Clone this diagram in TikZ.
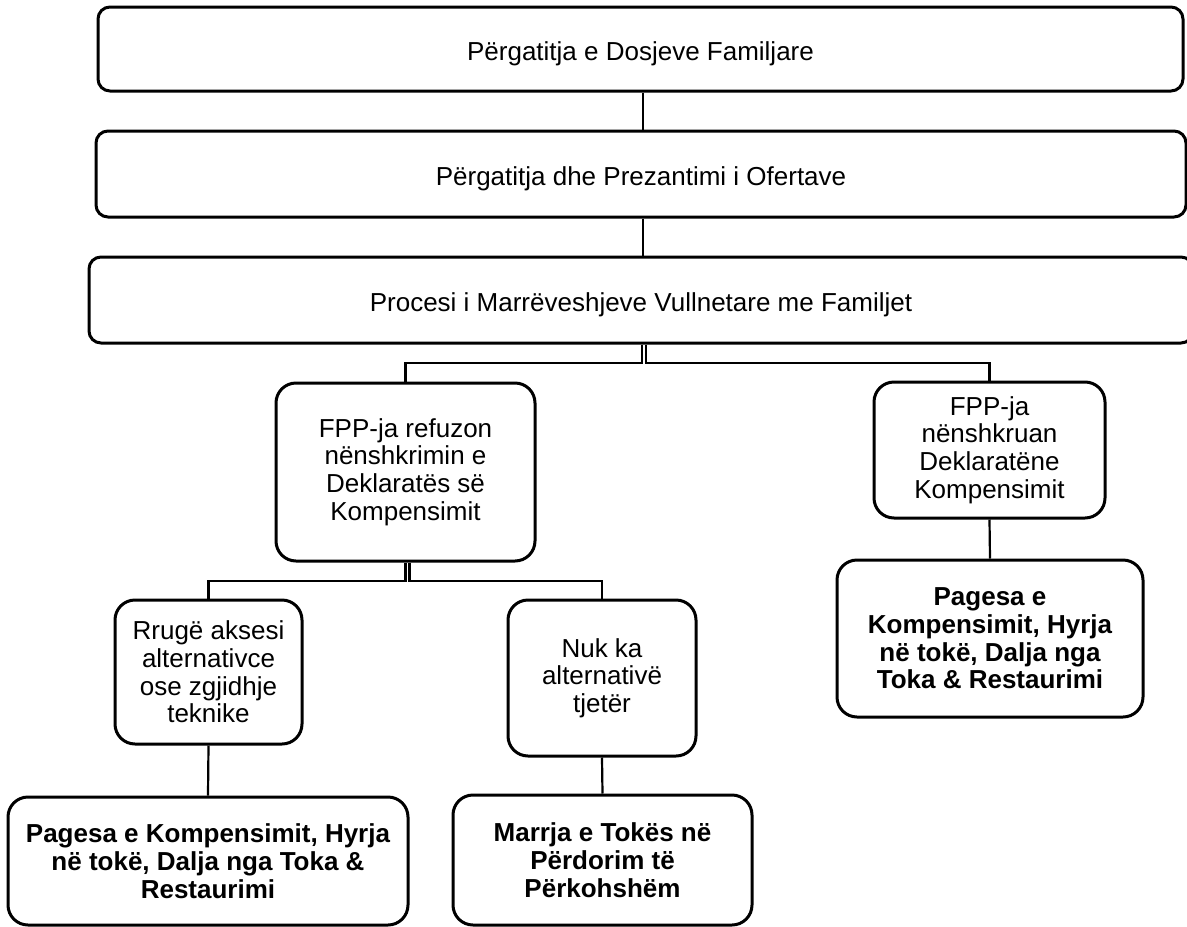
\documentclass[tikz,border=0pt]{standalone}
\usepackage{fontspec}
\setmainfont{Liberation Sans}
\begin{document}
\begin{tikzpicture}[x=1pt,y=-1pt,
  box/.style={draw=black,line width=3pt,fill=white,align=center,inner sep=0pt,
    font=\fontsize{26}{27.7}\selectfont},
  widebox/.style={box,rounded corners=12pt,text height=23pt,text depth=0pt},
  smallbox/.style={box,rounded corners=20pt},
  result/.style={box,rounded corners=20pt,font=\fontsize{26}{27.7}\selectfont\bfseries},
  link/.style={draw=black,line width=2.2pt}]
\useasboundingbox (0,0) rectangle (1187,927);

% top level process boxes
\node[widebox,minimum width=1085pt,minimum height=84pt] (b1) at (640.5,49)
  {Përgatitja e Dosjeve Familjare};
\node[widebox,minimum width=1090pt,minimum height=86pt] (b2) at (641,174)
  {Përgatitja dhe Prezantimi i Ofertave};
\node[widebox,minimum width=1104pt,minimum height=86pt] (b3) at (641,300)
  {Procesi i Marrëveshjeve Vullnetare me Familjet};

% second level
\node[smallbox,minimum width=259pt,minimum height=178pt] (b4) at (405.5,472)
  {FPP-ja refuzon\\nënshkrimin e\\Deklaratës së\\Kompensimit};
\node[smallbox,minimum width=231pt,minimum height=136pt] (b9) at (989.5,450)
  {FPP-ja\\nënshkruan\\Deklaratëne\\Kompensimit};

% third level
\node[smallbox,minimum width=187pt,minimum height=144pt] (b5) at (208.5,672)
  {Rrugë aksesi\\alternativce\\ose zgjidhje\\teknike};
\node[smallbox,minimum width=188pt,minimum height=156pt] (b6) at (602,678)
  {Nuk ka\\alternativë\\tjetër};
\node[result,minimum width=306pt,minimum height=157pt] (b10) at (990,638.5)
  {Pagesa e\\Kompensimit, Hyrja\\në tokë, Dalja nga\\Toka \& Restaurimi};

% outcome boxes
\node[result,minimum width=400pt,minimum height=128pt,text depth=0pt] (b7) at (208,861)
  {Pagesa e Kompensimit, Hyrja\\në tokë, Dalja nga Toka \&\\Restaurimi};
\node[result,minimum width=299pt,minimum height=130pt] (b8) at (602.5,860)
  {Marrja e Tokës në\\Përdorim të\\Përkohshëm};

% helper coordinates for the connector lines
\coordinate (spine) at (643,0);
\coordinate (sA) at (642,0);
\coordinate (sB) at (646,0);
\coordinate (busA) at (0,363);
\coordinate (sC) at (405.5,0);
\coordinate (sD) at (409.5,0);
\coordinate (busB) at (0,581);

% connectors
\draw[link] (b1.south -| spine) -- (b2.north -| spine);
\draw[link] (b2.south -| spine) -- (b3.north -| spine);
\draw[link] (b3.south -| sA) -- (sA |- busA) -- (busA -| b4.north) -- (b4.north);
\draw[link] (b3.south -| sB) -- (sB |- busA) -- (busA -| b9.north) -- (b9.north);
\draw[link] (b9.south) -- (b10.north);
\draw[link] (b4.south -| sC) -- (sC |- busB) -- (busB -| b5.north) -- (b5.north);
\draw[link] (b4.south -| sD) -- (sD |- busB) -- (busB -| b6.north) -- (b6.north);
\draw[link] (b5.south) -- (b7.north);
\draw[link] (b6.south) -- (b8.north);
\end{tikzpicture}
\end{document}
